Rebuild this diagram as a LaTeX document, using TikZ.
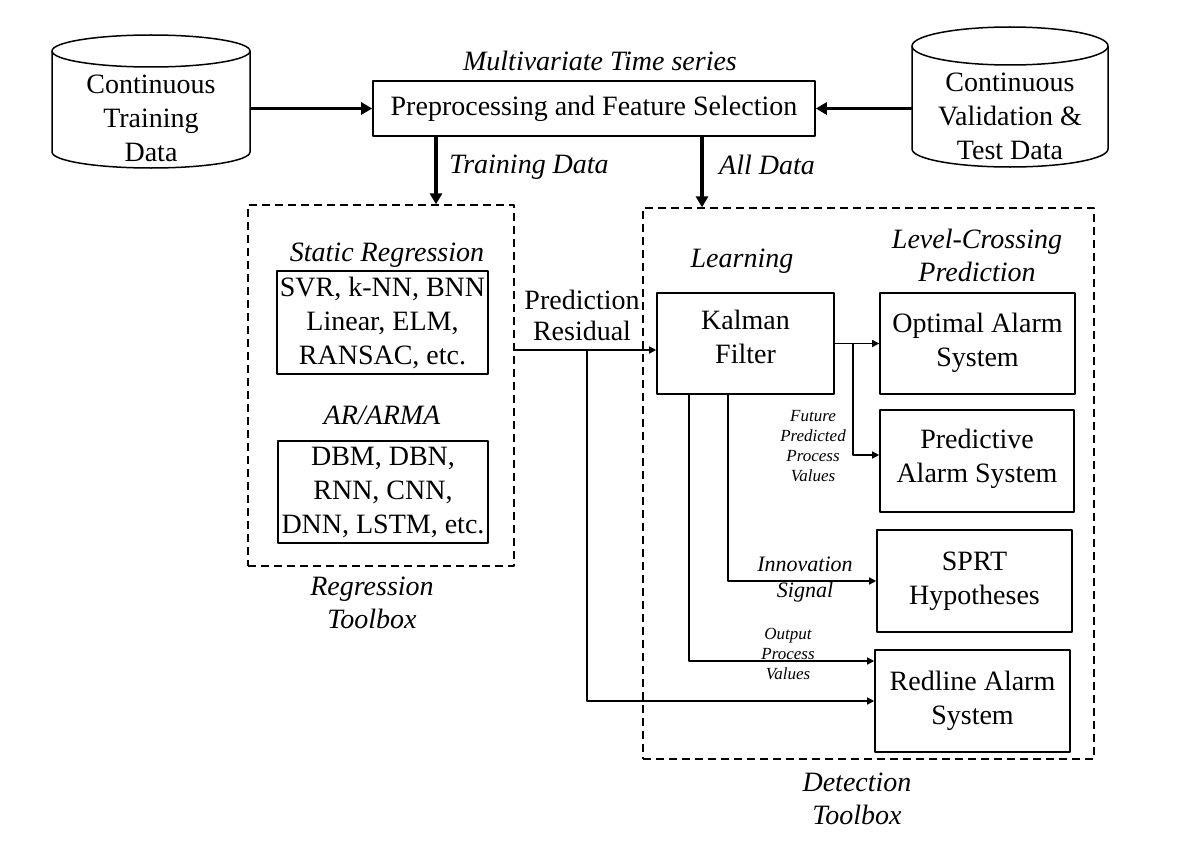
\documentclass[tikz,border=0pt]{standalone}
\usepackage{fontspec}
\setmainfont{Liberation Serif}
\usetikzlibrary{arrows.meta}
\begin{document}
\begin{tikzpicture}[x=0.5pt,y=-0.5pt, line join=round,
    font=\fontsize{14}{17}\selectfont,
    box/.style={draw,line width=0.8pt,align=center,inner sep=0pt},
    tbox/.style={draw,dash pattern=on 4pt off 2.5pt,line width=0.65pt,inner sep=0pt},
    lbl/.style={font=\fontsize{14}{16.5}\selectfont\itshape,align=center,inner sep=0pt},
    small/.style={font=\fontsize{8.5}{10}\selectfont\itshape,align=center,inner sep=0pt},
    thk/.style={line width=1.6pt,-{Triangle[length=5.5pt,width=6pt]}},
    thn/.style={line width=0.7pt,-{Triangle[length=3.5pt,width=3.5pt]}}]
    \useasboundingbox (0,0) rectangle (1186,856);
    % data stores
    \draw[line width=0.75pt] (151,51) ellipse[x radius=49.5pt,y radius=8pt];
    \draw[line width=0.75pt] (52,51) -- (52,152) arc[start angle=180,end angle=360,x radius=49.5pt,y radius=8pt] -- (250,51);
    \node[align=center,inner sep=0pt,minimum width=99pt] (train) at (151,118) {Continuous\\Training\\Data};
    \draw[line width=0.75pt] (1010,46) ellipse[x radius=49pt,y radius=9.5pt];
    \draw[line width=0.75pt] (912,46) -- (912,149) arc[start angle=180,end angle=360,x radius=49pt,y radius=9pt] -- (1108,46);
    \node[align=center,inner sep=0pt,minimum width=98pt] (test) at (1010,116) {Continuous\\Validation \&\\Test Data};
    % preprocessing
    \node[box,minimum width=221pt,minimum height=27.5pt] (pre) at (594,108.5) {Preprocessing and Feature Selection};
    \node[lbl] (mts) at (600,61) {Multivariate Time series};
    \draw[thk] (pre.west -| train.east) -- (pre.west);
    \draw[thk] (pre.east -| test.west) -- (pre.east);
    % regression toolbox
    \node[tbox,minimum width=133pt,minimum height=180.5pt] (reg) at (381,385.5) {};
    \node[lbl] (stat) at (387,255) {Static Regression};
    \node[box,minimum width=105.5pt,minimum height=51.5pt] (stbox) at (382.5,322.5) {SVR, k-NN, BNN\\Linear, ELM,\\RANSAC, etc.};
    \node[lbl] (arma) at (382,415) {AR/ARMA};
    \node[box,minimum width=105pt,minimum height=51pt] (dpbox) at (383,492) {DBM, DBN,\\RNN, CNN,\\DNN, LSTM, etc.};
    \node[lbl] (regt) at (372,603) {Regression\\Toolbox};
    % detection toolbox
    \node[tbox,minimum width=225.5pt,minimum height=275.5pt] (det) at (868.5,483.5) {};
    \node[lbl] (learn) at (742,261) {Learning};
    \node[lbl] (lcp) at (977,255.5) {Level-Crossing\\Prediction};
    \node[box,minimum width=88.5pt,minimum height=50.5pt,text depth=7pt] (kal) at (745.5,343.5) {Kalman\\Filter};
    \node[box,minimum width=97.5pt,minimum height=50.5pt,text depth=4pt] (opt) at (977.5,343.5) {Optimal Alarm\\System};
    \node[box,minimum width=97pt,minimum height=51pt,text depth=5pt] (pred) at (977,461) {Predictive\\Alarm System};
    \node[box,minimum width=97.5pt,minimum height=51pt] (sprt) at (974.5,581) {SPRT\\Hypotheses};
    \node[box,minimum width=97.5pt,minimum height=51pt] (red) at (972.5,701) {Redline Alarm\\System};
    \node[lbl] (dett) at (857,799) {Detection\\Toolbox};
    % data flow
    \draw[thk] ([xshift=-79pt]pre.south) -- ([xshift=-79pt]pre.south |- reg.north);
    \draw[thk] ([xshift=54pt]pre.south) -- ([xshift=54pt]pre.south |- det.north);
    \node[lbl] (trl) at (529,167) {Training Data};
    \node[lbl] (alll) at (767,165) {All Data};
    \node[align=center,inner sep=0pt,font=\fontsize{14}{15.5}\selectfont] (resl) at (582,315) {Prediction\\Residual};
    \coordinate (res) at (514,350);
    \coordinate (rsp) at (587,350);
    \coordinate (kb) at (853,343.5);
    \draw[thn] (res) -- (res -| kal.west);
    \draw[thn] (rsp) |- (red.west);
    \draw[thn] (kal.east) -- (opt.west);
    \draw[thn] (kb) |- ([yshift=3pt]pred.west);
    \draw[thn] ([xshift=-8.75pt]kal.south) |- (sprt.west);
    \draw[thn] ([xshift=-28.25pt]kal.south) |- ([yshift=20pt]red.west);
    \node[small] (fut) at (813,446) {Future\\Predicted\\Process\\Values};
    \node[lbl,font=\fontsize{11}{13}\selectfont\itshape] (innl) at (805,580) {Innovation\\Signal};
    \node[small] (outl) at (788,654) {Output\\Process\\Values};
\end{tikzpicture}
\end{document}
